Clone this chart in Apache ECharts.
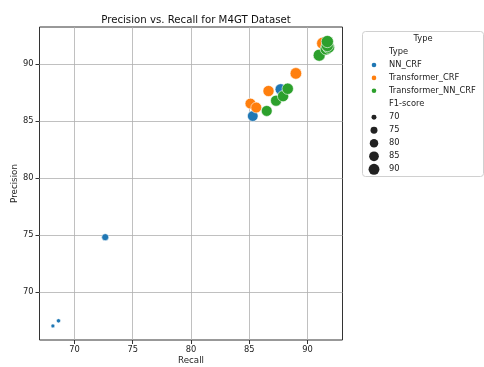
<!DOCTYPE html>
<html>
<head>
<meta charset="utf-8">
<script src="https://cdn.jsdelivr.net/npm/echarts@6/dist/echarts.min.js"></script>
<style>
  html, body { margin: 0; padding: 0; background: #fff; }
  #chart { width: 484px; height: 367px; }
</style>
</head>
<body>
<div id="chart"></div>
<script>
// Model types and their scores
const typeNames = ['NN_CRF', 'Transformer_CRF', 'Transformer_NN_CRF'];
const typeColors = ['#1f77b4', '#ff7f0e', '#2ca02c'];

const nnRecall = [68.15, 68.63, 72.64, 85.3, 87.7];
const nnPrecision = [67.0, 67.45, 74.8, 85.45, 87.8];
const nnF1 = [67.57, 68.03, 73.70, 85.37, 87.75];

const trRecall = [85.1, 85.6, 86.65, 89.0, 91.3];
const trPrecision = [86.55, 86.2, 87.65, 89.2, 91.85];
const trF1 = [85.82, 85.90, 87.15, 89.10, 91.57];

const trnnRecall = [86.5, 87.3, 87.9, 88.3, 91.0, 91.6, 91.8, 91.7, 91.7];
const trnnPrecision = [85.9, 86.8, 87.2, 87.85, 90.8, 91.35, 91.5, 91.65, 92.0];
const trnnF1 = [86.20, 87.05, 87.55, 88.07, 90.90, 91.47, 91.65, 91.67, 91.85];

const xTicks = [70, 75, 80, 85, 90];
const yTicks = [70, 75, 80, 85, 90];
const sizeTicks = [70, 75, 80, 85, 90];

// Marker area grows linearly with F1-score
const f1Min = 67.57, f1Max = 91.85;
function markerSize(f1) {
  const aMin = 16, aMax = 150;
  const t = (f1 - f1Min) / (f1Max - f1Min);
  return Math.sqrt(aMin + t * (aMax - aMin));
}

function zip(r, p, f) { return r.map((v, i) => [v, p[i], f[i]]); }
const groups = [
  zip(nnRecall, nnPrecision, nnF1),
  zip(trRecall, trPrecision, trF1),
  zip(trnnRecall, trnnPrecision, trnnF1)
];

const font = 'DejaVu Sans';
const gridLineStyle = { color: '#b0b0b0', width: 0.8, type: 'solid' };

const series = groups.map((data, i) => ({
  name: typeNames[i],
  type: 'scatter',
  data: data,
  z: 2,
  symbolSize: d => markerSize(d[2]),
  itemStyle: { color: typeColors[i], borderColor: '#fff', borderWidth: 0.6, opacity: 1 },
  emphasis: { disabled: true }
}));

// Grid lines at the tick values
series.unshift({
  type: 'scatter',
  data: [],
  z: 1,
  silent: true,
  markLine: {
    z: 1,
    silent: true,
    symbol: 'none',
    animation: false,
    label: { show: false },
    lineStyle: gridLineStyle,
    emphasis: { disabled: true },
    data: xTicks.map(v => ({ xAxis: v })).concat(yTicks.map(v => ({ yAxis: v })))
  }
});

// Legend drawn as graphics: colour entries and size entries
const lgX = 374, txtX = 389;
const lgFont = '8.3px ' + font;
const legendEls = [
  { type: 'rect', shape: { x: 362.5, y: 31.5, width: 121, height: 145, r: 3 },
    style: { fill: '#fff', stroke: '#d0d0d0', lineWidth: 1 }, z: 10 },
  { type: 'text', x: 423, y: 39, style: { text: 'Type', font: lgFont, fill: '#222', align: 'center', verticalAlign: 'middle' }, z: 11 },
  { type: 'text', x: txtX, y: 52, style: { text: 'Type', font: lgFont, fill: '#222', verticalAlign: 'middle' }, z: 11 }
];
typeNames.forEach((n, i) => {
  const y = 65 + i * 12.9;
  legendEls.push({ type: 'circle', shape: { cx: lgX, cy: y, r: 2.3 }, style: { fill: typeColors[i] }, z: 11 });
  legendEls.push({ type: 'text', x: txtX, y: y, style: { text: n, font: lgFont, fill: '#222', verticalAlign: 'middle' }, z: 11 });
});
legendEls.push({ type: 'text', x: txtX, y: 104, style: { text: 'F1-score', font: lgFont, fill: '#222', verticalAlign: 'middle' }, z: 11 });
sizeTicks.forEach((v, i) => {
  const y = 117.3 + i * 13;
  legendEls.push({ type: 'circle', shape: { cx: lgX, cy: y, r: markerSize(v) / 2 * 0.92 }, style: { fill: '#222' }, z: 11 });
  legendEls.push({ type: 'text', x: txtX, y: y, style: { text: String(v), font: lgFont, fill: '#222', verticalAlign: 'middle' }, z: 11 });
});

const chart = echarts.init(document.getElementById('chart'), null, { renderer: 'canvas' });
chart.setOption({
  animation: false,
  backgroundColor: '#fff',
  textStyle: { fontFamily: font },
  title: {
    text: 'Precision vs. Recall for M4GT Dataset',
    left: 191, top: 10, textAlign: 'center',
    textStyle: { fontFamily: font, fontSize: 10.2, fontWeight: 'normal', color: '#111' }
  },
  grid: {
    left: 39.5, top: 27, right: 141.5, bottom: 27,
    containLabel: false, outerBoundsMode: 'none',
    show: true, borderColor: '#333', borderWidth: 1, backgroundColor: 'transparent'
  },
  xAxis: {
    type: 'value', min: 67.0, max: 93.0,
    name: 'Recall', nameLocation: 'middle', nameGap: 16, nameMoveOverlap: false,
    nameTextStyle: { fontFamily: font, fontSize: 8.7, color: '#222' },
    axisLine: { show: false },
    splitLine: { show: false },
    axisTick: { show: true, length: 4, lineStyle: { color: '#333' }, customValues: xTicks },
    axisLabel: { margin: 6, fontSize: 8.3, color: '#222', customValues: xTicks }
  },
  yAxis: {
    type: 'value', min: 65.76, max: 93.28,
    name: 'Precision', nameLocation: 'middle', nameGap: 20, nameMoveOverlap: false,
    nameTextStyle: { fontFamily: font, fontSize: 8.7, color: '#222' },
    axisLine: { show: false },
    splitLine: { show: false },
    axisTick: { show: true, length: 4, lineStyle: { color: '#333' }, customValues: yTicks },
    axisLabel: { margin: 6, fontSize: 8.3, color: '#222', customValues: yTicks }
  },
  series: series,
  graphic: { elements: legendEls }
});
</script>
</body>
</html>
